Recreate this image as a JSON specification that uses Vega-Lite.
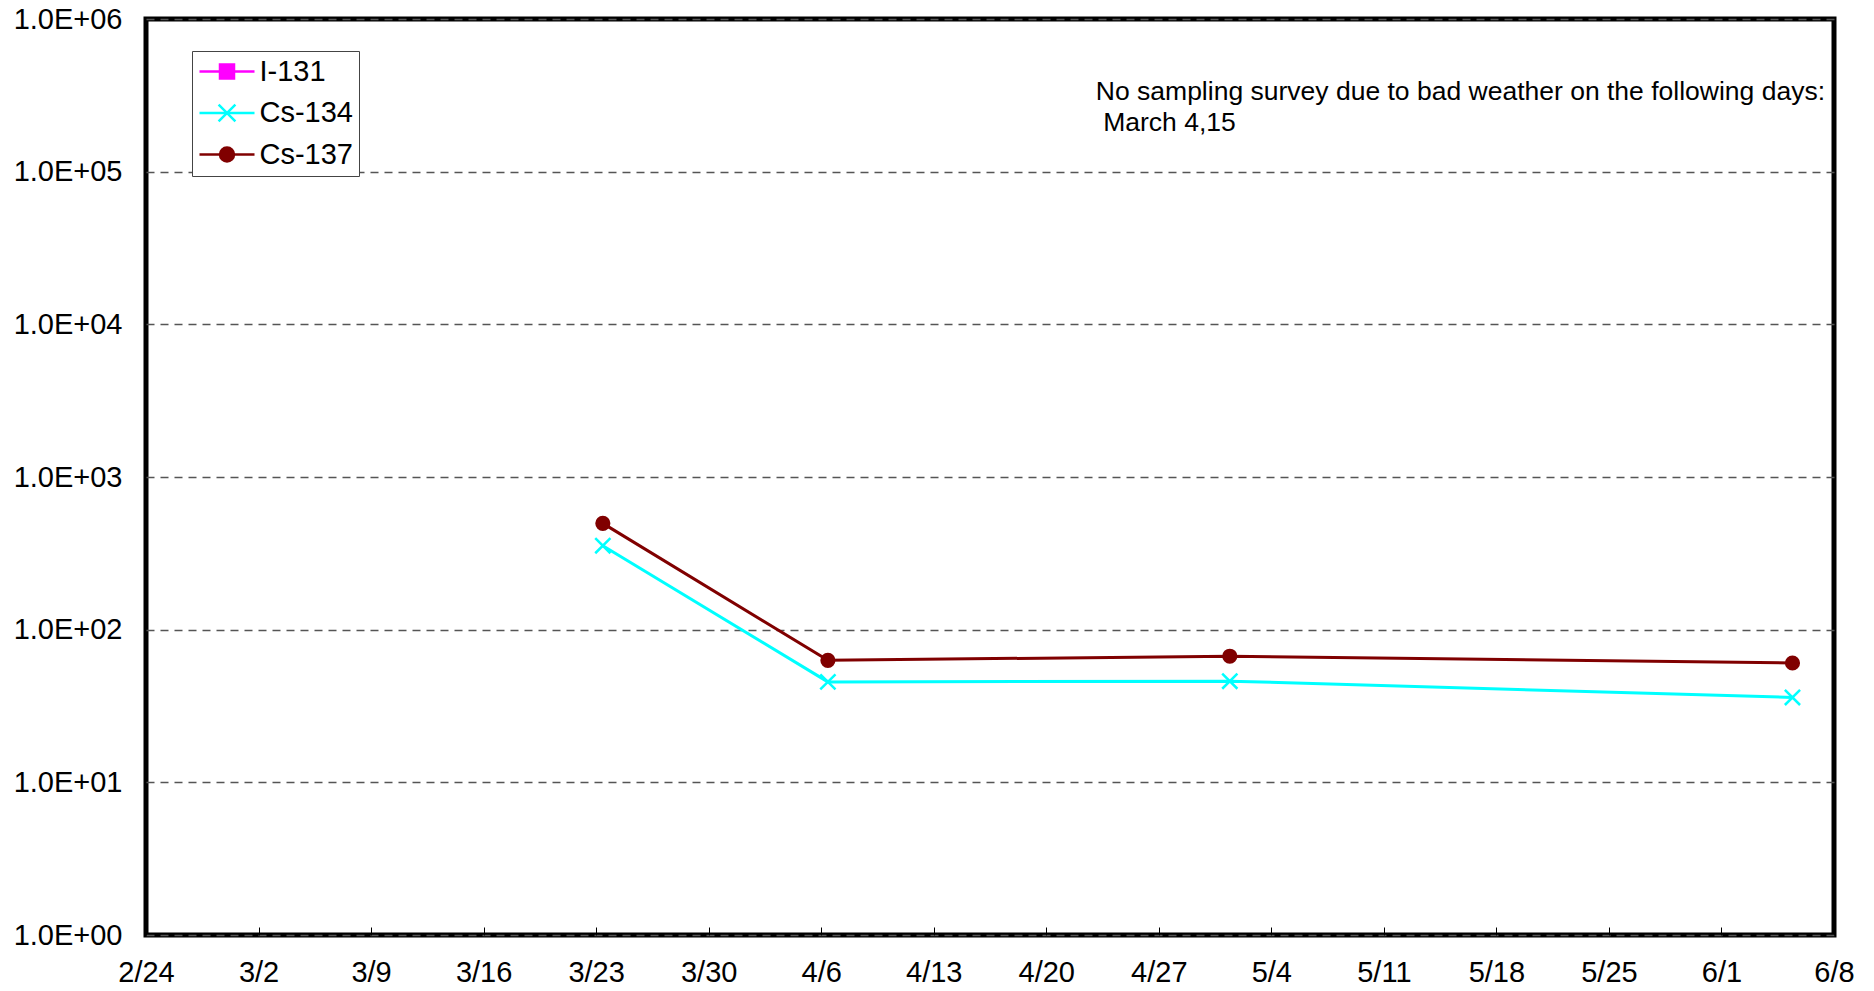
{
  "$schema": "https://vega.github.io/schema/vega-lite/v6.json",
  "width": 1688,
  "height": 916,
  "autosize": {"type": "none"},
  "padding": {"left": 146, "top": 19, "right": 40, "bottom": 56},
  "background": "white",
  "config": {
    "view": {"stroke": "black", "strokeWidth": 5},
    "font": "Liberation Sans",
    "axis": {"labelFont": "Liberation Sans", "labelFontSize": 29, "labelColor": "black", "domain": false}
  },
  "data": {
    "values": [
      {"date": "2012-03-23T10:00", "nuclide": "Cs-137", "value": 497},
      {"date": "2012-04-06T10:00", "nuclide": "Cs-137", "value": 63},
      {"date": "2012-05-01T10:00", "nuclide": "Cs-137", "value": 67},
      {"date": "2012-06-05T10:00", "nuclide": "Cs-137", "value": 60.5},
      {"date": "2012-03-23T10:00", "nuclide": "Cs-134", "value": 355},
      {"date": "2012-04-06T10:00", "nuclide": "Cs-134", "value": 45.5},
      {"date": "2012-05-01T10:00", "nuclide": "Cs-134", "value": 46},
      {"date": "2012-06-05T10:00", "nuclide": "Cs-134", "value": 36}
    ]
  },
  "encoding": {
    "x": {
      "field": "date", "type": "temporal", "title": null,
      "scale": {"domain": [{"year": 2012, "month": 2, "date": 24}, {"year": 2012, "month": 6, "date": 8}]},
      "axis": {
        "values": [
          {"year": 2012, "month": 2, "date": 24}, {"year": 2012, "month": 3, "date": 2},
          {"year": 2012, "month": 3, "date": 9}, {"year": 2012, "month": 3, "date": 16},
          {"year": 2012, "month": 3, "date": 23}, {"year": 2012, "month": 3, "date": 30},
          {"year": 2012, "month": 4, "date": 6}, {"year": 2012, "month": 4, "date": 13},
          {"year": 2012, "month": 4, "date": 20}, {"year": 2012, "month": 4, "date": 27},
          {"year": 2012, "month": 5, "date": 4}, {"year": 2012, "month": 5, "date": 11},
          {"year": 2012, "month": 5, "date": 18}, {"year": 2012, "month": 5, "date": 25},
          {"year": 2012, "month": 6, "date": 1}, {"year": 2012, "month": 6, "date": 8}
        ],
        "format": "%-m/%-d", "grid": false, "tickSize": -8, "tickColor": "black", "tickWidth": 1,
        "labelPadding": 31, "labelFlush": false, "labelOverlap": false, "labelBound": false
      }
    },
    "y": {
      "field": "value", "type": "quantitative", "title": null,
      "scale": {"type": "log", "domain": [1, 1000000]},
      "axis": {
        "values": [1, 10, 100, 1000, 10000, 100000, 1000000],
        "labelExpr": "'1.0E+0' + round(log(datum.value)/LN10)",
        "grid": true, "gridDash": [8, 6], "gridColor": "#555555", "gridWidth": 1.5,
        "ticks": false, "labelPadding": 24, "labelOverlap": false, "labelFlush": false
      }
    }
  },
  "layer": [
    {
      "data": {"values": [{"date": "2012-04-23T02:00", "value": 331000, "note": "No sampling survey due to bad weather on the following days:\n\u200b\u00a0March 4,15"}]},
      "mark": {"type": "text", "align": "left", "baseline": "middle", "fontSize": 26.5, "font": "Liberation Sans", "lineHeight": 31, "lineBreak": "\n", "color": "black"},
      "encoding": {
        "text": {"field": "note", "type": "nominal"}
      }
    },
    {
      "mark": {"type": "line", "strokeWidth": 3},
      "encoding": {
        "color": {
          "field": "nuclide", "type": "nominal",
          "scale": {"domain": ["I-131", "Cs-134", "Cs-137"], "range": ["#FF00FF", "#00FFFF", "#800000"]},
          "legend": {"title": null, "orient": "none", "legendX": 46, "legendY": 32, "padding": 6, "fillColor": "white", "strokeColor": "#444444", "labelFont": "Liberation Sans", "labelFontSize": 29, "labelColor": "black", "labelExpr": "datum.label + '\u00a0'", "symbolType": "M-3.93,0L3.93,0", "symbolSize": 196, "symbolStrokeWidth": 2.5, "symbolOffset": 14.5, "labelOffset": 18, "rowPadding": 11.5, "zindex": 1}
        }
      }
    },
    {
      "mark": {"type": "point", "filled": true, "size": 160, "strokeWidth": 2.5, "opacity": 1},
      "encoding": {
        "fill": {
          "field": "nuclide", "type": "nominal",
          "scale": {"domain": ["I-131", "Cs-134", "Cs-137", "-"], "range": ["#FF00FF", "#00FFFF", "#800000", "#000000"]},
          "legend": {"title": null, "values": ["I-131", "Cs-134", "Cs-137"], "orient": "none", "legendX": 46, "legendY": 32, "padding": 6, "labelFont": "Liberation Sans", "labelFontSize": 29, "labelColor": "transparent", "symbolSize": 196, "symbolStrokeWidth": 2.5, "symbolOffset": 14.5, "labelOffset": 18, "rowPadding": 11.5, "zindex": 2}
        },
        "stroke": {
          "field": "nuclide", "type": "nominal",
          "scale": {"domain": ["I-131", "Cs-134", "Cs-137", "-"], "range": ["#FF00FF", "#00FFFF", "#800000", "#000000"]},
          "legend": {"title": null, "values": ["I-131", "Cs-134", "Cs-137"], "orient": "none", "legendX": 46, "legendY": 32, "padding": 6, "labelFont": "Liberation Sans", "labelFontSize": 29, "labelColor": "transparent", "symbolSize": 196, "symbolStrokeWidth": 2.5, "symbolOffset": 14.5, "labelOffset": 18, "rowPadding": 11.5, "zindex": 2}
        },
        "shape": {
          "field": "nuclide", "type": "nominal",
          "scale": {"domain": ["I-131", "Cs-134", "Cs-137", "-"], "range": ["square", "M-1.2,-1.2L1.2,1.2M-1.2,1.2L1.2,-1.2", "circle", "circle"]},
          "legend": {"title": null, "values": ["I-131", "Cs-134", "Cs-137"], "orient": "none", "legendX": 46, "legendY": 32, "padding": 6, "labelFont": "Liberation Sans", "labelFontSize": 29, "labelColor": "transparent", "symbolSize": 196, "symbolStrokeWidth": 2.5, "symbolOffset": 14.5, "labelOffset": 18, "rowPadding": 11.5, "zindex": 2}
        }
      }
    }
  ]
}
